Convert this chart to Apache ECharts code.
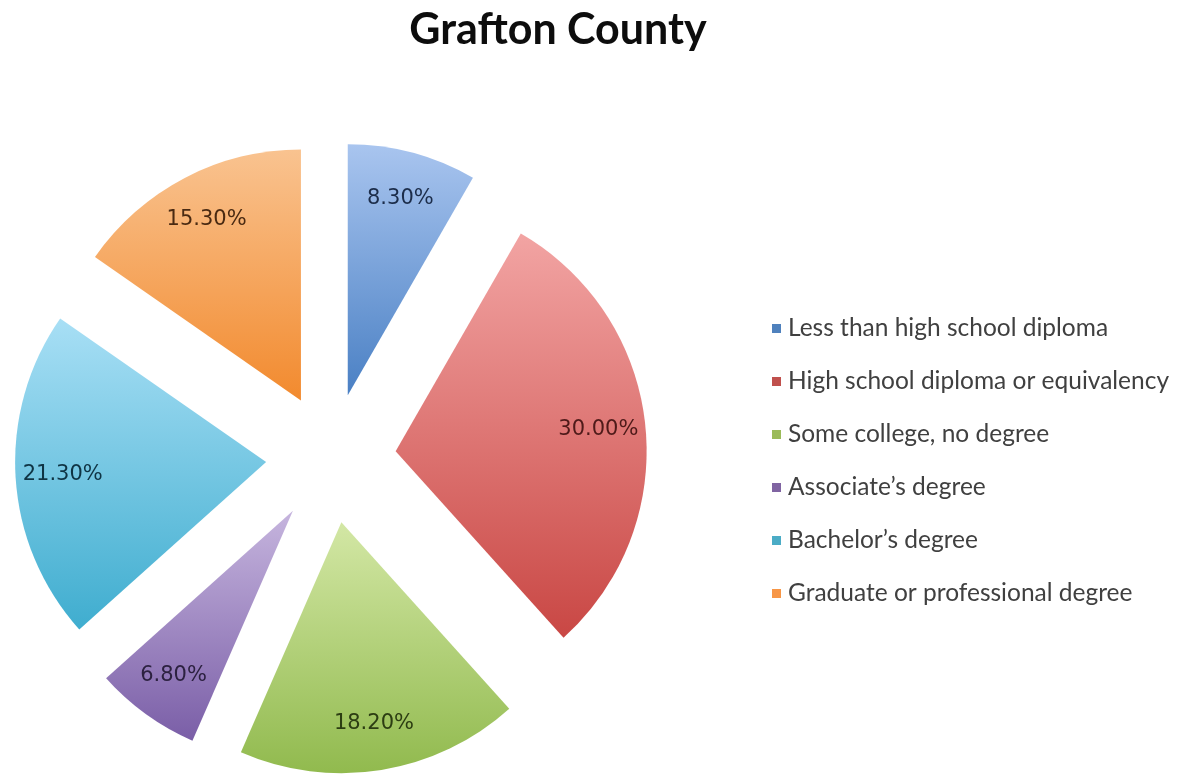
<!DOCTYPE html>
<html>
<head>
<meta charset="utf-8">
<title>Grafton County</title>
<script src="https://cdn.jsdelivr.net/npm/echarts@6/dist/echarts.min.js"></script>
<style>
  html, body { margin: 0; padding: 0; background: #ffffff; }
  #chart { width: 1186px; height: 777px; }
</style>
</head>
<body>
<div id="chart"></div>
<script>
// Educational attainment shares, Grafton County
const categories = [
  'Less than high school diploma',
  'High school diploma or equivalency',
  'Some college, no degree',
  'Associate\u2019s degree',
  'Bachelor\u2019s degree',
  'Graduate or professional degree'
];
const shares = [8.3, 30.0, 18.2, 6.8, 21.3, 15.3];

// Slice shading: light top, darker bottom; legend swatch; label ink
const topColors    = ['#a9c5ef', '#f2a4a3', '#d3e7a5', '#c6b5de', '#a8dff5', '#f9c390'];
const bottomColors = ['#4a80c4', '#c94744', '#91ba4e', '#7a5ea7', '#3fadcf', '#f28a2e'];
const swatchColors = ['#4f81bd', '#c0504d', '#9bbb59', '#8064a2', '#4bacc6', '#f79646'];
const labelColors  = ['#1c2d4a', '#4e1a19', '#2c3d12', '#2c2140', '#0f3444', '#4a2a12'];

const center = [331, 458];
const outerR = 251;
const explode = 65;

const sliceData = categories.map((name, i) => ({
  name,
  value: shares[i],
  selected: true,
  itemStyle: {
    color: new echarts.graphic.LinearGradient(0, 0, 0, 1, [
      { offset: 0, color: topColors[i] },
      { offset: 1, color: bottomColors[i] }
    ])
  }
}));

const labelData = categories.map((name, i) => ({
  name,
  value: shares[i],
  selected: true,
  label: { color: labelColors[i] }
}));

const chart = echarts.init(document.getElementById('chart'), null, { renderer: 'canvas' });

chart.setOption({
  animation: false,
  backgroundColor: '#ffffff',
  color: swatchColors,
  title: {
    text: 'Grafton County',
    left: 553,
    textAlign: 'center',
    top: 4,
    textStyle: {
      fontFamily: 'Lato',
      fontWeight: 'bold',
      fontSize: 43,
      color: '#0d0d0d'
    }
  },
  legend: {
    orient: 'vertical',
    left: 767,
    top: 311,
    itemWidth: 9,
    itemHeight: 9,
    itemGap: 28,
    icon: 'rect',
    selectedMode: false,
    data: categories.map((name, i) => ({ name, itemStyle: { color: swatchColors[i] } })),
    textStyle: {
      fontFamily: 'Lato',
      fontSize: 24.5,
      lineHeight: 25,
      color: '#404040',
      padding: [0, 0, 0, 2]
    }
  },
  series: [
    {
      name: 'slices',
      type: 'pie',
      center: center,
      radius: [0, outerR],
      startAngle: 90,
      clockwise: true,
      selectedMode: 'multiple',
      selectedOffset: explode,
      avoidLabelOverlap: false,
      label: { show: false },
      labelLine: { show: false },
      emphasis: { disabled: true },
      select: { itemStyle: { borderWidth: 0 } },
      itemStyle: { borderWidth: 0 },
      data: sliceData
    },
    {
      name: 'labels',
      type: 'pie',
      center: center,
      radius: [outerR * 0.6, outerR],
      startAngle: 90,
      clockwise: true,
      silent: true,
      selectedMode: 'multiple',
      selectedOffset: explode,
      avoidLabelOverlap: false,
      legendHoverLink: false,
      itemStyle: { color: 'rgba(0,0,0,0)', borderWidth: 0 },
      select: { itemStyle: { color: 'rgba(0,0,0,0)', borderWidth: 0 } },
      emphasis: { disabled: true },
      labelLine: { show: false },
      label: {
        show: true,
        position: 'inside',
        fontFamily: 'DejaVu Sans',
        fontSize: 21,
        formatter: (p) => p.value.toFixed(2) + '%'
      },
      data: labelData
    }
  ]
});
</script>
</body>
</html>
